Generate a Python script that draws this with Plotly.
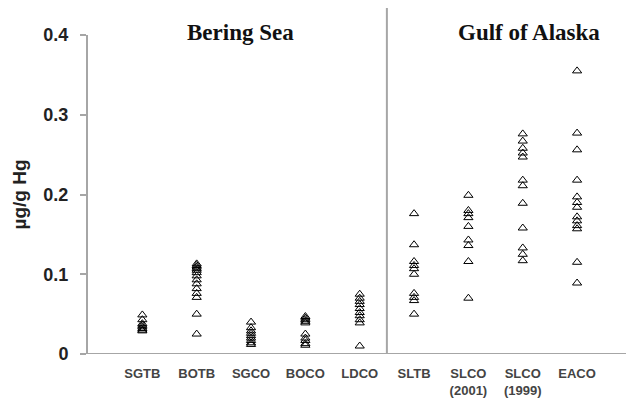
import plotly.graph_objects as go

# Mercury concentrations (µg/g Hg) by sample group
categories = ["SGTB", "BOTB", "SGCO", "BOCO", "LDCO",
              "SLTB", "SLCO (2001)", "SLCO (1999)", "EACO"]
tick_labels = ["SGTB", "BOTB", "SGCO", "BOCO", "LDCO",
               "SLTB", "SLCO<br>(2001)", "SLCO<br>(1999)", "EACO"]

sgtb = [0.049, 0.043, 0.038, 0.036, 0.034, 0.032, 0.030, 0.029]
botb = [0.113, 0.111, 0.109, 0.107, 0.105, 0.102, 0.098, 0.093, 0.088,
        0.082, 0.076, 0.071, 0.050, 0.025]
sgco = [0.040, 0.033, 0.029, 0.026, 0.023, 0.020, 0.017, 0.014, 0.012]
boco = [0.047, 0.045, 0.043, 0.041, 0.039, 0.025, 0.020, 0.017, 0.013, 0.011]
ldco = [0.075, 0.070, 0.066, 0.062, 0.057, 0.052, 0.048, 0.043, 0.039, 0.010]
sltb = [0.176, 0.137, 0.116, 0.111, 0.107, 0.100, 0.076, 0.071, 0.067, 0.050]
slco_2001 = [0.199, 0.180, 0.176, 0.171, 0.160, 0.143, 0.136, 0.116, 0.070]
slco_1999 = [0.276, 0.267, 0.258, 0.252, 0.247, 0.218, 0.211, 0.189, 0.158,
             0.133, 0.125, 0.117]
eaco = [0.355, 0.277, 0.256, 0.218, 0.197, 0.190, 0.184, 0.172, 0.167,
        0.161, 0.157, 0.115, 0.089]

groups = [sgtb, botb, sgco, boco, ldco, sltb, slco_2001, slco_1999, eaco]

y_ticks = [0, 0.1, 0.2, 0.3, 0.4]
y_tick_text = ["0", "0.1", "0.2", "0.3", "0.4"]

xs, ys = [], []
for i, vals in enumerate(groups):
    xs += [i] * len(vals)
    ys += vals

axis_grey = "#a6a6a6"
sans = "Arial, Liberation Sans"

fig = go.Figure(go.Scatter(
    x=xs, y=ys, mode="markers",
    marker=dict(symbol="triangle-up-open", size=8, color="black",
                line=dict(width=1, color="black")),
    showlegend=False,
))

fig.update_layout(
    width=626, height=402,
    margin=dict(l=88, r=0, t=35, b=48),
    paper_bgcolor="white", plot_bgcolor="white",
    font=dict(family=sans, color="#222"),
    xaxis=dict(
        range=[-1, 8.9], tickmode="array",
        tickvals=list(range(len(categories))), ticktext=tick_labels,
        showgrid=False, zeroline=False, showline=False, ticks="",
        tickfont=dict(size=13, color="#444", family=sans, weight="bold"),
        ticklabelstandoff=10,
    ),
    yaxis=dict(
        range=[0, 0.4], tickmode="array", tickvals=y_ticks, ticktext=y_tick_text,
        showgrid=False, zeroline=False, showline=True, linecolor=axis_grey,
        linewidth=2, ticks="outside", ticklen=6, tickcolor=axis_grey, tickwidth=1.5,
        tickfont=dict(size=18, color="#222", family=sans, weight="bold"),
        ticklabelstandoff=8,
        title=dict(text="µg/g Hg",
                   font=dict(size=19, color="#222", family=sans, weight="bold"),
                   standoff=12),
    ),
)

# x baseline, extended slightly past the y axis
fig.add_shape(type="line", xref="paper", yref="y", x0=-8 / 538, x1=1,
              y0=0, y1=0, line=dict(color=axis_grey, width=2), layer="below")
# divider between the two regions
fig.add_shape(type="line", xref="x", yref="paper", x0=4.5, x1=4.5,
              y0=0, y1=(354 - 8) / 319, line=dict(color=axis_grey, width=2),
              layer="below")

for label, xc in [("Bering Sea", 1.8), ("Gulf of Alaska", 7.11)]:
    fig.add_annotation(text=f"<b>{label}</b>", x=xc, xref="x",
                       y=(354 - 33) / 319, yref="paper", yanchor="middle",
                       showarrow=False,
                       font=dict(family="Liberation Serif, Times New Roman",
                                 size=23, color="#111"))

fig.write_html("out.html")
